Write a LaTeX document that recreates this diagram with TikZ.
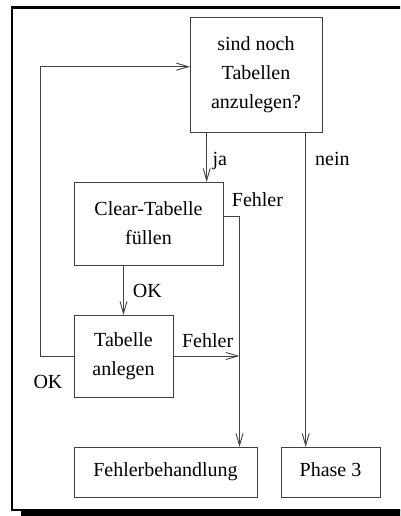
\documentclass[tikz,border=0pt]{standalone}
\usepackage{fontspec}
\setmainfont{Liberation Serif}
\newfontfamily\boxfont{Liberation Serif}
\usetikzlibrary{arrows.meta}

\tikzset{
  box/.style={draw=black!75, line width=0.9pt, inner sep=0pt, outer sep=0pt,
              align=center, font=\boxfont\fontsize{20}{29}\selectfont},
  onebox/.style={box, text height=13.7pt, text depth=4.4pt},
  flow/.style={draw=black!75, line width=0.9pt,
               -{Straight Barb[length=12pt,width=7pt]}},
  lbl/.style={anchor=base west, inner sep=0pt, font=\boxfont\fontsize{20}{29}\selectfont},
}

\begin{document}
\begin{tikzpicture}[x=1pt, y=-1pt]
  \useasboundingbox (0,0) rectangle (400,516);
  \clip (0,0) rectangle (400,516);

  % page frame with a shadow along the bottom
  \fill[white] (0,0) rectangle (400,516);
  \draw[line width=2.4pt] (12.2,7.5) rectangle (430,509.8);
  \fill[black] (21,509.5) rectangle (430,530);

  % process boxes
  \node[box, minimum width=132pt, minimum height=115pt] (b1) at (256,74.5)
    {sind noch\\Tabellen\\anzulegen?};
  \node[box, minimum width=149pt, minimum height=83pt] (b2) at (148.5,223.5)
    {Clear-Tabelle\\füllen};
  \node[box, minimum width=99pt, minimum height=82pt] (b3) at (123.5,356)
    {Tabelle\\anlegen};
  \node[onebox, minimum width=183pt, minimum height=50pt] (b4) at (165.5,472)
    {Fehlerbehandlung};
  \node[onebox, minimum width=99pt, minimum height=50pt] (b5) at (330.5,472)
    {Phase 3};

  % routing points
  \coordinate (ja) at (206.7,132);
  \coordinate (nein) at (305.7,132);
  \coordinate (err) at (239.5,216);
  \coordinate (loop) at (40.7,66.7);

  % connectors
  \draw[flow] (ja) -- (ja |- b2.north);
  \draw[flow] (nein) -- (nein |- b5.north);
  \draw[flow] (b2.east |- err) -- (err) -- (err |- b4.north);
  \draw[flow] (b2.south -| b3.north) -- (b3.north);
  \draw[flow] (b3.east) -- (err |- b3.east);
  \draw[flow] (b3.west) -| (loop) -- (loop -| b1.west);

  % connector labels
  \node[lbl] (lja) at (212.3,165.7) {ja};
  \node[lbl] (lnein) at (315,165.7) {nein};
  \node[lbl] (lerr1) at (231.7,206.7) {Fehler};
  \node[lbl] (lok1) at (132.7,297.7) {OK};
  \node[lbl] (lerr2) at (181.9,347.5) {Fehler};
  \node[lbl] (lok2) at (33.3,388.3) {OK};
\end{tikzpicture}
\end{document}
